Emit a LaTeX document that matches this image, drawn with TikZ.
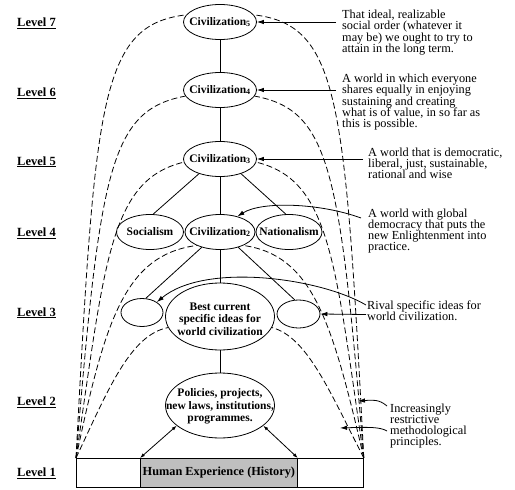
\documentclass[tikz,border=0pt]{standalone}
\usepackage{fontspec}
\setmainfont{Liberation Serif}
\usetikzlibrary{shapes.geometric,arrows.meta}
\newcommand\mynotefont{\fontsize{12.3}{11.2}\selectfont\lineskiplimit=-6pt\relax}
\begin{document}
\begin{tikzpicture}[x=1pt,y=-1pt,
  ell/.style={draw,ellipse,line width=0.8pt,inner sep=0pt,minimum height=35pt},
  lbl/.style={font=\fontsize{11.5}{12.3}\selectfont\bfseries,align=center,inner sep=0pt},
  lvl/.style={font=\fontsize{12.5}{14}\selectfont\bfseries,anchor=base,inner sep=0pt},
  note/.style={font=\mynotefont,align=left,anchor=north west,inner sep=0pt},
  conn/.style={line width=0.8pt},
  dsh/.style={line width=0.8pt,dash pattern=on 6pt off 3pt},
  arr/.style={line width=0.8pt,-{Latex[length=7pt,width=4.5pt]}},
  dbl/.style={line width=0.8pt,{Latex[length=5pt,width=3.5pt]}-{Latex[length=5pt,width=3.5pt]}},
]
\useasboundingbox (0,0) rectangle (515,490);

% level labels
\node[lvl] (l7) at (36.5,26.5) {\underline{Level 7}};
\node[lvl] (l6) at (36.5,96.5) {\underline{Level 6}};
\node[lvl] (l5) at (36.5,165) {\underline{Level 5}};
\node[lvl] (l4) at (36.5,236.5) {\underline{Level 4}};
\node[lvl] (l3) at (36.5,316) {\underline{Level 3}};
\node[lvl] (l2) at (36.5,405.5) {\underline{Level 2}};
\node[lvl] (l1) at (36.5,476.5) {\underline{Level 1}};

% ellipses
\node[ell,minimum width=73pt] (c5) at (220,22) {};
\node[lbl] (c5t) at (c5.center) {Civilization\textsubscript{5}};
\node[ell,minimum width=73pt] (c4) at (220,90) {};
\node[lbl] (c4t) at (c4.center) {Civilization\textsubscript{4}};
\node[ell,minimum width=73pt] (c3) at (220,159) {};
\node[lbl] (c3t) at (c3.center) {Civilization\textsubscript{3}};
\node[ell,minimum width=70pt] (c2) at (220,232) {};
\node[lbl] (c2t) at (c2.center) {Civilization\textsubscript{2}};
\node[ell,minimum width=67pt] (soc) at (150,232) {};
\node[lbl] (soct) at (soc.center) {Socialism};
\node[ell,minimum width=66pt] (nat) at (289,232) {};
\node[lbl] (natt) at (nat.center) {Nationalism};
\node[ell,minimum width=42pt,minimum height=28pt] (ls) at (142,312.5) {};
\node[ell,minimum width=43pt,minimum height=28pt] (rs) at (298.5,314) {};
\node[ell,minimum width=109pt,minimum height=67pt] (bc) at (220,316.5) {};
\node[lbl] (bct) at (220,319) {Best current\\specific ideas for\\world civilization};
\node[ell,minimum width=109pt,minimum height=65pt] (pol) at (220,405.5) {};
\node[lbl] (polt) at (220,406.5) {Policies, projects,\\new laws, institutions,\\programmes.};

% bottom boxes
\node[draw,line width=0.8pt,anchor=north west,inner sep=0pt,minimum width=64pt,minimum height=29pt] (lbox) at (76,458) {};
\node[draw,line width=0.8pt,fill=gray!50,anchor=north west,inner sep=0pt,minimum width=157pt,minimum height=29pt,font=\fontsize{12.3}{14}\selectfont\bfseries] (hx) at (140,458) {Human Experience (History)};
\node[draw,line width=0.8pt,anchor=north west,inner sep=0pt,minimum width=66pt,minimum height=29pt] (rbox) at (297,458) {};

% solid connectors
\draw[conn] (c5) -- (c4);
\draw[conn] (c4) -- (c3);
\draw[conn] (c3) -- (c2);
\draw[conn] (c3.215) -- (soc.80);
\draw[conn] (c3.325) -- (nat.100);
\draw[conn] (c2.south) -- (bc.north);
\draw[conn] (c2.220) -- (ls.75);
\draw[conn] (c2.320) -- (rs.105);
\draw[conn] (bc.south) -- (pol.north);
\draw[dbl] (hx.north west) -- (pol.205);
\draw[dbl] (hx.north east) -- (pol.335);

% dashed curves, left
\draw[dsh] (lbox.north west) .. controls (95,100) and (100,25) .. (c5.168);
\draw[dsh] (lbox.north west) .. controls (100,170) and (110,110) .. (c4.190);
\draw[dsh] (lbox.north west) .. controls (105,260) and (110,180) .. (c3.185);
\draw[dsh] (lbox.north west) .. controls (105,320) and (125,255) .. (c2.210);
\draw[dsh] (lbox.north west) .. controls (108,390) and (130,335) .. (bc.192);
% dashed curves, right
\draw[dsh] (rbox.north east) .. controls (345,100) and (340,25) .. (c5.12);
\draw[dsh] (rbox.north east) .. controls (340,170) and (330,110) .. (c4.350);
\draw[dsh] (rbox.north east) .. controls (335,260) and (330,180) .. (c3.355);
\draw[dsh] (rbox.north east) .. controls (332,320) and (312,255) .. (c2.330);
\draw[dsh] (rbox.north east) .. controls (329,390) and (307,337) .. (bc.348);

% notes
\node[note] (n1) at (342,10) {That ideal, realizable\\social order (whatever it\\may be) we ought to try to\\attain in the long term.};
\node[note] (n2) at (342,74) {A world in which everyone\\shares equally in enjoying\\sustaining and creating\\what is of value, in so far as\\this is possible.};
\node[note] (n3) at (368,147.6) {A world that is democratic,\\liberal, just, sustainable,\\rational and wise};
\node[note] (n4) at (368,208.3) {A world with global\\democracy that puts the\\new Enlightenment into\\practice.};
\node[note] (n5) at (367,300.9) {Rival specific ideas for\\world civilization.};
\node[note] (n6) at (390,403.6) {Increasingly\\restrictive\\methodological\\principles.};

% note arrows
\coordinate (a1s) at (336,22);
\coordinate (a2s) at (336,90);
\coordinate (a3s) at (363,159);
\coordinate (a4s) at (361,218);
\coordinate (a5s) at (366,305);
\coordinate (a6s) at (366,314.5);
\coordinate (a7s) at (387,406);
\coordinate (a7e) at (358,401);
\coordinate (a8s) at (387,431);
\coordinate (a8e) at (340,428);
\draw[arr] (a1s) -- (c5.east);
\draw[arr] (a2s) -- (c4.east);
\draw[arr] (a3s) -- (c3.east);
\draw[arr] (a4s) .. controls (320,203) and (262,201) .. (c2.42);
\draw[arr] (a5s) .. controls (320,278) and (205,262) .. (ls.35);
\draw[arr] (a6s) -- (rs.east);
\draw[arr] (a7s) .. controls (379,399) and (372,400) .. (a7e);
\draw[arr] (a8s) .. controls (380,427) and (370,427) .. (a8e);
\end{tikzpicture}
\end{document}
